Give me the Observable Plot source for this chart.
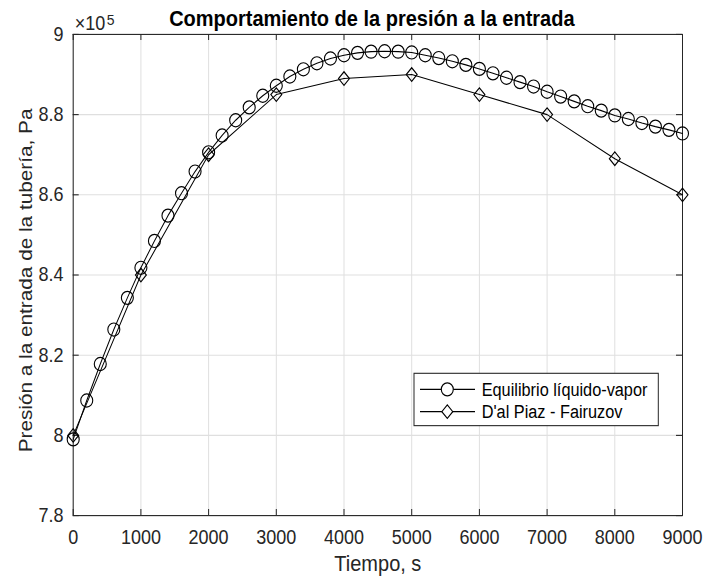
<!DOCTYPE html>
<html>
<head>
<meta charset="utf-8">
<script src="https://cdn.jsdelivr.net/npm/d3@7"></script>
<script src="https://cdn.jsdelivr.net/npm/@observablehq/plot@0.6"></script>
<style>
  body { margin: 0; background: #fff; }
  #chart svg { display: block; }
</style>
</head>
<body>
<div id="chart"></div>
<script>
// Tiempo (s) y presión a la entrada de la tubería (en unidades de 10^5 Pa)
const tiempoEquilibrio = [0, 200, 400, 600, 800, 1000, 1200, 1400, 1600, 1800,
  2000, 2200, 2400, 2600, 2800, 3000, 3200, 3400, 3600, 3800,
  4000, 4200, 4400, 4600, 4800, 5000, 5200, 5400, 5600, 5800,
  6000, 6200, 6400, 6600, 6800, 7000, 7200, 7400, 7600, 7800,
  8000, 8200, 8400, 8600, 8800, 9000];
const presionEquilibrio = [7.990, 8.087, 8.178, 8.264, 8.343, 8.418, 8.485, 8.548, 8.604, 8.658,
  8.706, 8.748, 8.786, 8.818, 8.847, 8.872, 8.895, 8.913, 8.928, 8.940,
  8.948, 8.954, 8.957, 8.958, 8.957, 8.955, 8.948, 8.941, 8.933, 8.924,
  8.914, 8.903, 8.892, 8.881, 8.870, 8.857, 8.845, 8.833, 8.821, 8.810,
  8.798, 8.789, 8.779, 8.770, 8.762, 8.753];

const tiempoDalPiaz = [0, 1000, 2000, 3000, 4000, 5000, 6000, 7000, 8000, 9000];
const presionDalPiaz = [8.00, 8.40, 8.70, 8.85, 8.89, 8.90, 8.85, 8.80, 8.69, 8.60];

const ticksTiempo = [0, 1000, 2000, 3000, 4000, 5000, 6000, 7000, 8000, 9000];
const ticksPresion = [7.8, 8, 8.2, 8.4, 8.6, 8.8, 9];

const nombresSeries = ["Equilibrio líquido-vapor", "D'al Piaz - Fairuzov"];
const titulo = "Comportamiento de la presión a la entrada";
const etiquetaX = "Tiempo, s";
const etiquetaY = "Presión a la entrada de la tubería, Pa";
const factorEscala = "×10";
const exponente = "5";

// Figure geometry: drawn in a 704×528 space and stretched to 577 px tall
const W = 704, H = 528, HOUT = 577;
const ml = 72.7, mr = 22, mt = 31, mb = 56.7;
const innerW = W - ml - mr, innerH = H - mt - mb;
const font = "'Liberation Sans', Arial, Helvetica, sans-serif";
const ink = "#262626";
const grid = "#dfdfdf";

const equilibrio = tiempoEquilibrio.map((t, i) => ({t, p: presionEquilibrio[i]}));
const dalPiaz = tiempoDalPiaz.map((t, i) => ({t, p: presionDalPiaz[i]}));

// Diamond marker, slightly narrower than tall
const rombo = {
  draw(ctx, size) {
    const r = Math.sqrt(size / Math.PI), w = r * 0.88;
    ctx.moveTo(0, -r);
    ctx.lineTo(w, 0);
    ctx.lineTo(0, r);
    ctx.lineTo(-w, 0);
    ctx.closePath();
  }
};

const svg = Plot.plot({
  width: W,
  height: H,
  marginLeft: ml,
  marginRight: mr,
  marginTop: mt,
  marginBottom: mb,
  style: {fontFamily: font, fontSize: "18px", color: ink, background: "#fff", overflow: "visible"},
  x: {domain: [0, 9000]},
  y: {domain: [7.8, 9]},
  marks: [
    Plot.gridX(ticksTiempo, {stroke: grid, strokeOpacity: 1}),
    Plot.gridY(ticksPresion, {stroke: grid, strokeOpacity: 1}),
    Plot.axisX(ticksTiempo, {tickSize: 0, tickPadding: 13.5, fontSize: 18, fill: ink, label: null, tickFormat: d => String(d)}),
    Plot.axisY(ticksPresion, {tickSize: 0, tickPadding: 9.7, fontSize: 18, fill: ink, label: null, tickFormat: d => String(d)}),
    // inward ticks on all four sides
    Plot.ruleX(ticksTiempo, {x: d => d, stroke: ink, insetTop: innerH - 5.5}),
    Plot.ruleX(ticksTiempo, {x: d => d, stroke: ink, insetBottom: innerH - 5.5}),
    Plot.ruleY(ticksPresion, {y: d => d, stroke: ink, insetRight: innerW - 6}),
    Plot.ruleY(ticksPresion, {y: d => d, stroke: ink, insetLeft: innerW - 6}),
    Plot.frame({stroke: ink}),
    Plot.line(equilibrio, {x: "t", y: "p", stroke: "black", strokeWidth: 1}),
    Plot.dot(equilibrio, {x: "t", y: "p", r: 6, stroke: "black", fill: "none", strokeWidth: 1.1}),
    Plot.line(dalPiaz, {x: "t", y: "p", stroke: "black", strokeWidth: 1}),
    Plot.dot(dalPiaz, {x: "t", y: "p", r: 6.2, symbol: rombo, stroke: "black", fill: "none", strokeWidth: 1.1}),
    Plot.text([titulo], {frameAnchor: "top", dx: -6, dy: -14.5, lineAnchor: "middle", textAnchor: "middle", fontWeight: "bold", fontSize: 20, fill: "black"}),
    Plot.text([etiquetaX], {frameAnchor: "bottom", dy: 44, lineAnchor: "middle", textAnchor: "middle", fontSize: 20, fill: ink}),
    Plot.text([etiquetaY], {frameAnchor: "left", dx: -47, dy: 5, rotate: -90, lineAnchor: "middle", textAnchor: "middle", fontSize: 19, fill: ink}),
    Plot.text([factorEscala], {frameAnchor: "top-left", dx: 1.5, dy: -9.5, lineAnchor: "middle", textAnchor: "start", fontSize: 18, fill: ink}),
    Plot.text([exponente], {frameAnchor: "top-left", dx: 33.5, dy: -13.5, lineAnchor: "middle", textAnchor: "start", fontSize: 14, fill: ink})
  ]
});

// Legend box inside the axes (south-east corner)
const leyenda = d3.select(svg).append("g")
  .attr("font-family", font)
  .attr("font-size", 16.3)
  .attr("text-anchor", "start")
  .attr("fill", "black");
leyenda.append("rect")
  .attr("x", 414).attr("y", 341.6)
  .attr("width", 244.3).attr("height", 47.9)
  .attr("fill", "#fff").attr("stroke", ink);
const simbolos = [d3.symbolCircle, rombo];
const radios = [6, 6.2];
nombresSeries.forEach((nombre, i) => {
  const y = [356.3, 376.7][i];
  leyenda.append("line")
    .attr("x1", 420).attr("x2", 475).attr("y1", y).attr("y2", y)
    .attr("stroke", "black");
  leyenda.append("path")
    .attr("transform", `translate(447.3,${y})`)
    .attr("d", d3.symbol(simbolos[i], radios[i] * radios[i] * Math.PI)())
    .attr("fill", "#fff").attr("stroke", "black").attr("stroke-width", 1.1);
  leyenda.append("text")
    .attr("x", 481.7).attr("y", y).attr("dy", "0.35em")
    .attr("text-anchor", "start")
    .text(nombre);
});

svg.setAttribute("height", HOUT);
svg.setAttribute("preserveAspectRatio", "none");
svg.style.width = W + "px";
svg.style.height = HOUT + "px";
svg.style.maxWidth = "none";
document.getElementById("chart").appendChild(svg);
</script>
</body>
</html>
